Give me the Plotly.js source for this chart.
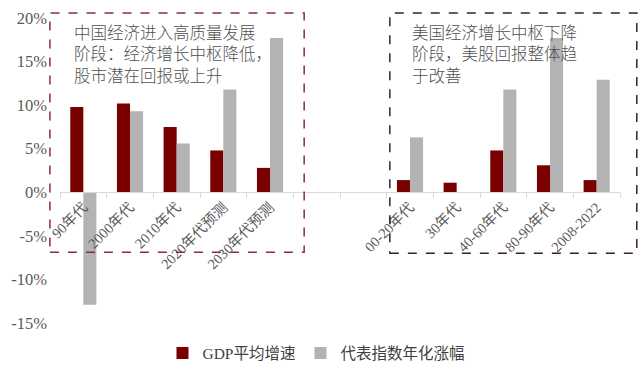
<!DOCTYPE html>
<html>
<head>
<meta charset="utf-8">
<script src="https://cdn.plot.ly/plotly-3.0.1.min.js"></script>
<style>html,body{margin:0;padding:0;background:#fff;}#chart{width:640px;height:383px;}</style>
</head>
<body>
<div id="chart"></div>
<script>
// Categories (two blank spacer categories between China and US groups)
const categories = ["90年代", "2000年代", "2010年代", "2020年代预测", "2030年代预测",
  "\u200b", "\u200b\u200b",
  "00-20年代", "30年代", "40-60年代", "80-90年代", "2008-2022"];
// GDP平均增速 (%)
const gdpGrowth = [9.8, 10.2, 7.5, 4.8, 2.8, null, null, 1.4, 1.1, 4.8, 3.1, 1.4];
// 代表指数年化涨幅 (%)
const indexReturn = [-12.9, 9.3, 5.6, 11.8, 17.7, null, null, 6.3, null, 11.8, 17.7, 12.9];
const seriesNames = ["GDP平均增速", "代表指数年化涨幅"];
const yTickVals = [-15, -10, -5, 0, 5, 10, 15, 20];
const yTickText = ["-15%", "-10%", "-5%", "0%", "5%", "10%", "15%", "20%"];
const noteChina = "中国经济进入高质量发展<br>阶段：经济增长中枢降低，<br>股市潜在回报或上升";
const noteUS = "美国经济增长中枢下降<br>阶段，美股回报整体趋<br>于改善";

const serif = "'Times New Roman', 'Liberation Serif', 'Noto Sans CJK SC', serif";
const yMin = -15, yMax = 20;

const traces = [
  {type: "bar", name: seriesNames[0], x: categories, y: gdpGrowth,
   marker: {color: "#7a0000"}},
  {type: "bar", name: seriesNames[1], x: categories, y: indexReturn,
   marker: {color: "#b3b3b3"}}
];

const layout = {
  width: 640, height: 383,
  margin: {l: 60, r: 20, t: 18, b: 57},
  paper_bgcolor: "#fff", plot_bgcolor: "#fff",
  barmode: "group", bargap: 0.44, bargroupgap: 0,
  showlegend: true,
  legend: {orientation: "h", x: 0.458, xanchor: "center", y: -0.1, yanchor: "middle",
    font: {family: serif, size: 15.5, color: "#404040"}, itemwidth: 30, tracegroupgap: 0},
  xaxis: {type: "category", categoryorder: "array", categoryarray: categories,
    anchor: "free", position: (0 - yMin) / (yMax - yMin),
    showline: true, linecolor: "#d9d9d9", linewidth: 1,
    ticks: "outside", tickson: "boundaries", ticklen: 5, tickcolor: "#d9d9d9",
    tickangle: -45, showgrid: false, zeroline: false,
    tickfont: {family: serif, size: 14.5, color: "#595959"}},
  yaxis: {range: [yMin, yMax], tickvals: yTickVals, ticktext: yTickText,
    showgrid: false, zeroline: false, showline: false, ticks: "",
    ticklabelstandoff: 12,
    tickfont: {family: serif, size: 16.5, color: "#595959"}},
  shapes: [
    {type: "rect", xref: "paper", yref: "paper", x0: -0.018, x1: 0.436, y0: 0.232, y1: 1.016,
     line: {color: "#8c2a45", width: 1.5, dash: "dash"}},
    {type: "rect", xref: "paper", yref: "paper", x0: 0.589, x1: 1.03, y0: 0.229, y1: 1.016,
     line: {color: "#3d2030", width: 1.5, dash: "dash"}}
  ],
  annotations: [
    {xref: "paper", yref: "paper", x: 0.021, y: 1.0, xanchor: "left", yanchor: "top",
     align: "left", showarrow: false, text: noteChina,
     font: {family: "'Noto Sans CJK SC', sans-serif", size: 16.5, weight: 300, color: "#505050"}},
    {xref: "paper", yref: "paper", x: 0.625, y: 1.0, xanchor: "left", yanchor: "top",
     align: "left", showarrow: false, text: noteUS,
     font: {family: "'Noto Sans CJK SC', sans-serif", size: 16.5, weight: 300, color: "#505050"}}
  ]
};

Plotly.newPlot("chart", traces, layout, {displayModeBar: false, staticPlot: true});
</script>
</body>
</html>
